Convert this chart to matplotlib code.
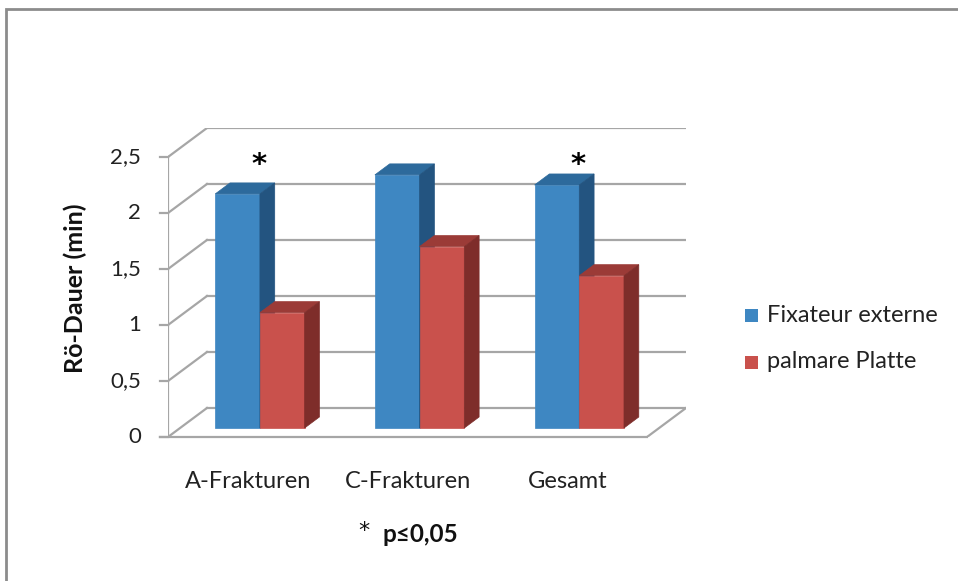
import matplotlib.pyplot as plt
from matplotlib.patches import Polygon, Rectangle

plt.rcParams['font.family'] = ['Lato', 'DejaVu Sans']

# Röntgen-Durchleuchtungsdauer je Frakturtyp
kategorien = ['A-Frakturen', 'C-Frakturen', 'Gesamt']
fixateur = [2.09, 2.26, 2.17]
platte = [1.03, 1.62, 1.36]
serien = ['Fixateur externe', 'palmare Platte']
signifikant = [True, False, True]
y_ticks = [0, 0.5, 1, 1.5, 2, 2.5]
y_labels = ['0', '0,5', '1', '1,5', '2', '2,5']

# Farben: Vorderseite, Deckfläche, Seitenfläche
farben = [('#3E87C2', '#2D6A9C', '#235480'),
          ('#C9514C', '#9B3B37', '#7E2D2A')]

# Schräge Tiefe (in Achseneinheiten) für die 3D-Optik
DX, DY = 0.244, 0.259
ymax = 2.5
bw = 0.28
d0, d1 = 0.31, 0.69


def proj(x, y, d):
    return (x + d * DX, y + d * DY)


fig = plt.figure(figsize=(9.58, 5.81), dpi=100)
ax = fig.add_axes([168 / 958, 144 / 581, 518 / 958, 309 / 581])
ax.set_xlim(0, 3 + DX)
ax.set_ylim(0, ymax + DY)

gitter = '#A6A6A6'
# Rückwand-Gitterlinien und Seitenwand-Diagonalen
for v in y_ticks:
    ax.plot([DX, 3 + DX], [v + DY, v + DY], color=gitter, lw=1.6, zorder=1)
    ax.plot([0, DX], [v, v + DY], color=gitter, lw=1.6, zorder=1)
# Boden
ax.plot([-0.05, 3], [0, 0], color=gitter, lw=1.6, zorder=1, clip_on=False)
ax.plot([3, 3 + DX], [0, DY], color=gitter, lw=1.6, zorder=1)
# Wertachse vorne links
ax.plot([0, 0], [0, ymax], color=gitter, lw=1.6, zorder=1)
for v in y_ticks:
    ax.plot([-0.05, 0], [v, v], color=gitter, lw=1.6, zorder=1, clip_on=False)

# Balken von links nach rechts zeichnen
for i in range(len(kategorien)):
    for s, werte in enumerate([fixateur, platte]):
        h = werte[i]
        x0 = i + 0.5 - bw + s * bw
        x1 = x0 + bw
        front, top, side = farben[s]
        vorne = [proj(x0, 0, d0), proj(x1, 0, d0), proj(x1, h, d0), proj(x0, h, d0)]
        deck = [proj(x0, h, d0), proj(x1, h, d0), proj(x1, h, d1), proj(x0, h, d1)]
        seite = [proj(x1, 0, d0), proj(x1, 0, d1), proj(x1, h, d1), proj(x1, h, d0)]
        for pts, c in [(vorne, front), (deck, top), (seite, side)]:
            ax.add_patch(Polygon(pts, closed=True, facecolor=c, edgecolor=c,
                                 lw=0.5, zorder=3))

# Signifikanzsterne
for i, sig in enumerate(signifikant):
    if sig:
        ax.text(i + 0.5 + 0.07, 2.43, '*', ha='center', va='center',
                fontsize=21, fontweight='bold', family='DejaVu Sans',
                color='black', zorder=4)

# Achsenbeschriftungen
for v, lab in zip(y_ticks, y_labels):
    ax.text(-0.17, v, lab, ha='right', va='center', fontsize=16, color='#222222')
for i, kat in enumerate(kategorien):
    ax.text(i + 0.5, -0.4, kat, ha='center', va='center', fontsize=17,
            color='#222222')

ax.set_axis_off()

fig.text(75 / 958, 1 - 288 / 581, 'Rö-Dauer (min)', rotation=90, ha='center',
         va='center', fontsize=18, fontweight='bold', color='#111111')

fig.text(364 / 958, 1 - 531 / 581, '*', ha='center', va='center', fontsize=16,
         family='DejaVu Sans', color='#111111')
fig.text(382 / 958, 1 - 535 / 581, 'p≤0,05', ha='left', va='center',
         fontsize=17.5, fontweight='bold', color='#111111')

# Legende
for s, name in enumerate(serien):
    y = 1 - (315 + s * 47) / 581
    fig.patches.append(Rectangle((745 / 958, y - 6.5 / 581), 13 / 958, 13 / 581,
                                 facecolor=farben[s][0], edgecolor='none',
                                 transform=fig.transFigure, figure=fig))
    fig.text(767 / 958, y, name, ha='left', va='center', fontsize=17,
             color='#222222')

# Rahmen des Diagramms
fig.patches.append(Rectangle((6 / 958, -0.05), 1.0, 1 - 9 / 581 + 0.05,
                             facecolor='none', edgecolor='#8C8C8C', lw=2,
                             transform=fig.transFigure, figure=fig))

fig.savefig('out.png', dpi=100)
